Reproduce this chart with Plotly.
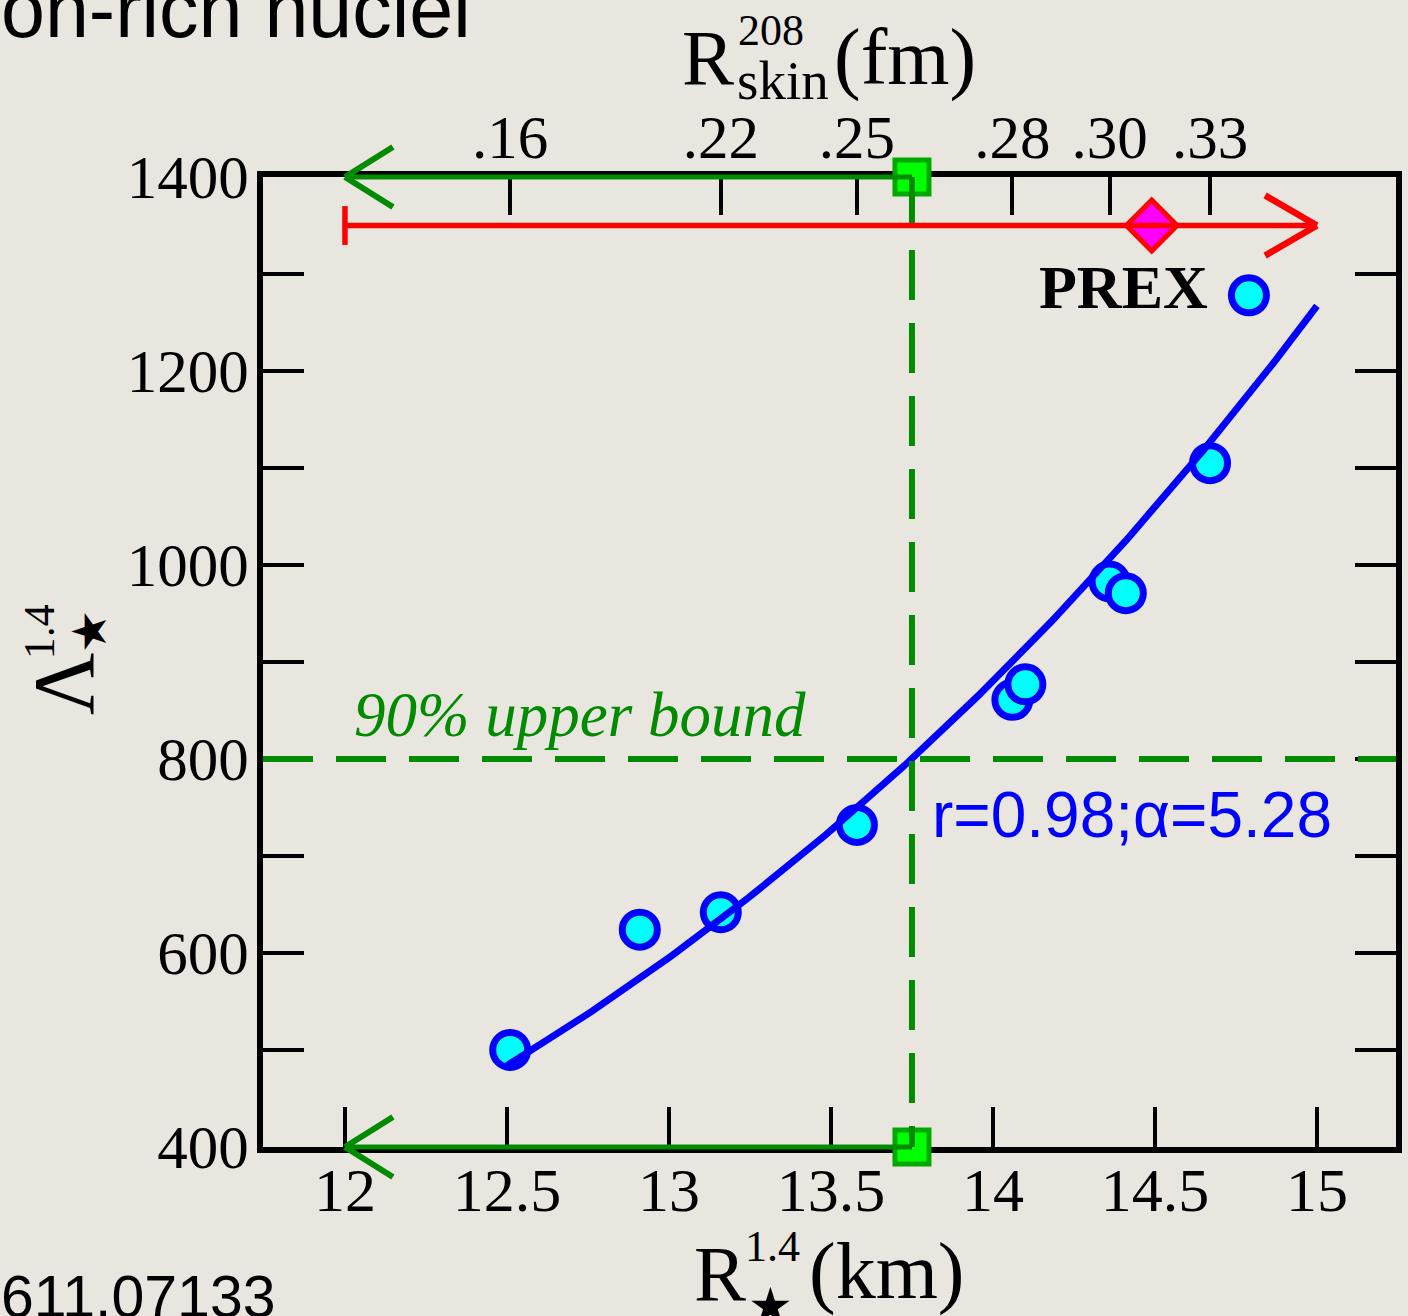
import numpy as np
import plotly.graph_objects as go

# Neutron-star radius R_1.4 (km) and tidal deformability Lambda_1.4 of each model
radius_km = [12.51, 12.91, 13.16, 13.58, 14.06, 14.10, 14.36, 14.41, 14.67, 14.79]
tidal_lambda = [500, 624, 642, 732, 861, 877, 983, 971, 1105, 1278]

# 208Pb neutron-skin thickness (top axis), placed at the radius of the matching model
skin_tick_radius = [12.51, 13.16, 13.58, 14.06, 14.36, 14.67]
skin_tick_labels = [".16", ".22", ".25", ".28", ".30", ".33"]

# Power-law fit  Lambda = C * R^alpha
fit_alpha = 5.28
fit_r = 0.98
fit_span = [12.5, 15.0]

# 90% upper bound on Lambda and the radius it implies
lambda_bound = 800
radius_bound = 13.75
bound_arrow_to = 12.0

# PREX constraint
prex_radius = 14.49
prex_low = 12.0
prex_high = 15.0
prex_level = 1350

x_range = [11.747, 15.244]
y_range = [400, 1400]

# ---- figure geometry ----
W, H = 1408, 1316
ML, MR, MT, MB = 263, 6, 177, 169
PW, PH = W - ML - MR, H - MT - MB


def at(px, py):
    """figure pixel position -> paper coordinates"""
    return (px - ML) / PW, (H - MB - py) / PH


SERIF = "Liberation Serif, Times New Roman, serif"
SANS = "Liberation Sans, Arial, sans-serif"
STAR = "DejaVu Sans, Liberation Serif, serif"
BG = "#e8e6df"
GREEN = "#008b00"
BLUE = "#0000ff"
RED = "#ff0000"

# fit normalisation from the models (least squares in log space, fixed alpha)
r_arr = np.array(radius_km)
l_arr = np.array(tidal_lambda)
fit_norm = np.exp(np.mean(np.log(l_arr) - fit_alpha * np.log(r_arr)))
fit_x = np.linspace(fit_span[0], fit_span[1], 200)
fit_y = fit_norm * fit_x ** fit_alpha

fig = go.Figure()

# models
fig.add_trace(go.Scatter(
    x=radius_km, y=tidal_lambda, mode="markers",
    marker=dict(symbol="circle", size=35, color="#00ffff",
                line=dict(color=BLUE, width=7)),
    showlegend=False, hoverinfo="skip"))

# fit curve
fig.add_trace(go.Scatter(
    x=fit_x, y=fit_y, mode="lines",
    line=dict(color=BLUE, width=7), showlegend=False, hoverinfo="skip"))

# invisible carrier for the top (skin) axis
fig.add_trace(go.Scatter(
    x=skin_tick_radius, y=[tidal_lambda[i] for i in (0, 2, 3, 4, 6, 8)],
    xaxis="x2", mode="markers", marker=dict(opacity=0),
    showlegend=False, hoverinfo="skip"))

# radius bound markers on the frame
fig.add_trace(go.Scatter(
    x=[radius_bound, radius_bound], y=[y_range[1], y_range[0]], mode="markers",
    marker=dict(symbol="square", size=34, color="#00ff00",
                line=dict(color="#00a800", width=5)),
    cliponaxis=False, showlegend=False, hoverinfo="skip"))

# PREX central value
fig.add_trace(go.Scatter(
    x=[prex_radius], y=[prex_level], mode="markers",
    marker=dict(symbol="diamond", size=39, color="#ff00ff",
                line=dict(color=RED, width=5)),
    cliponaxis=False, showlegend=False, hoverinfo="skip"))

shapes = []


def seg(x0, y0, x1, y1, color, width, xref="x", yref="y", dash="solid"):
    shapes.append(dict(type="line", xref=xref, yref=yref, x0=x0, y0=y0,
                       x1=x1, y1=y1, layer="above",
                       line=dict(color=color, width=width, dash=dash)))


DASH = "50px,23px"
# 90% bound lines
seg(0, lambda_bound, 1, lambda_bound, GREEN, 6, xref="x domain", dash=DASH)
seg(radius_bound, 1, radius_bound, 0, GREEN, 6, yref="y domain", dash=DASH)

# green arrows along the top and bottom frame
head_dx = 0.148
head_dy = 0.031
for yd in (1, 0):
    seg(radius_bound, yd, bound_arrow_to, yd, GREEN, 5, yref="y domain")
    seg(bound_arrow_to, yd, bound_arrow_to + head_dx, yd + head_dy, GREEN, 6, yref="y domain")
    seg(bound_arrow_to, yd, bound_arrow_to + head_dx, yd - head_dy, GREEN, 6, yref="y domain")

# PREX range arrow
seg(prex_low, prex_level, prex_high, prex_level, RED, 5.5)
seg(prex_low, prex_level - 20, prex_low, prex_level + 20, RED, 5.5)
seg(prex_high, prex_level, prex_high - 0.16, prex_level + 31, RED, 6.5)
seg(prex_high, prex_level, prex_high - 0.16, prex_level - 31, RED, 6.5)

ann = []


def text(px, py, s, size, color="black", family=SERIF, angle=0, xanchor="center"):
    x, y = at(px, py)
    ann.append(dict(x=x, y=y, xref="paper", yref="paper", text=s, showarrow=False,
                    xanchor=xanchor, yanchor="middle", textangle=angle,
                    font=dict(size=size, color=color, family=family)))


# top axis title  R^208_skin (fm)
text(710, 58, "R", 78)
text(774, 30, "208", 44)
text(786, 81, "skin", 55)
text(908, 58, "(fm)", 80)

# bottom axis title  R^1.4_star (km)
text(722, 1273, "R", 78)
text(775, 1246, "1.4", 44)
text(773, 1306, "\u2605", 50, family=STAR)
text(890, 1271, "(km)", 80)

# left axis title  Lambda^1.4_star
text(63, 684, "\u039b", 86, angle=-90)
text(38, 632, "1.4", 44, angle=-90)
text(88, 631, "\u2605", 48, family=STAR, angle=-90)

text(352, 715, "<i>90% upper bound</i>", 63, color=GREEN, xanchor="left")
text(934, 815, f"r={fit_r:.2f};\u03b1={fit_alpha:.2f}", 64, color=BLUE,
     family=SANS, xanchor="left")
text(1128, 287, "<b>PREX</b>", 62)
text(-2, 10, "on-rich nuclei", 79, family=SANS, xanchor="left")
text(-2, 1297, "611.07133", 59, family=SANS, xanchor="left")

fig.update_layout(
    width=W, height=H,
    margin=dict(l=ML, r=MR, t=MT, b=MB, pad=0),
    paper_bgcolor=BG, plot_bgcolor=BG,
    shapes=shapes, annotations=ann, showlegend=False,
    xaxis=dict(range=x_range, tick0=12, dtick=0.5, ticks="inside", ticklen=40,
               tickwidth=4, tickcolor="black", showline=True, linewidth=6,
               linecolor="black", mirror=True, showgrid=False, zeroline=False,
               layer="below traces", ticklabelstandoff=-16,
               tickfont=dict(family=SERIF, size=62, color="black")),
    xaxis2=dict(range=x_range, overlaying="x", side="top", anchor="y",
                tickmode="array", tickvals=skin_tick_radius, ticktext=skin_tick_labels,
                ticks="inside", ticklen=38, tickwidth=4, tickcolor="black",
                showline=False, showgrid=False, zeroline=False, layer="below traces",
                ticklabelstandoff=6,
                tickfont=dict(family=SERIF, size=61, color="black")),
    yaxis=dict(range=y_range, tick0=400, dtick=200, ticks="inside", ticklen=41,
               tickwidth=4, tickcolor="black", showline=True, linewidth=6,
               linecolor="black", mirror="allticks", showgrid=False, zeroline=False,
               layer="below traces", ticklabelstandoff=-4,
               minor=dict(dtick=100, ticks="inside", ticklen=25, tickwidth=4,
                          tickcolor="black", showgrid=False),
               tickfont=dict(family=SERIF, size=61, color="black")),
)

fig.write_html("out.html")
